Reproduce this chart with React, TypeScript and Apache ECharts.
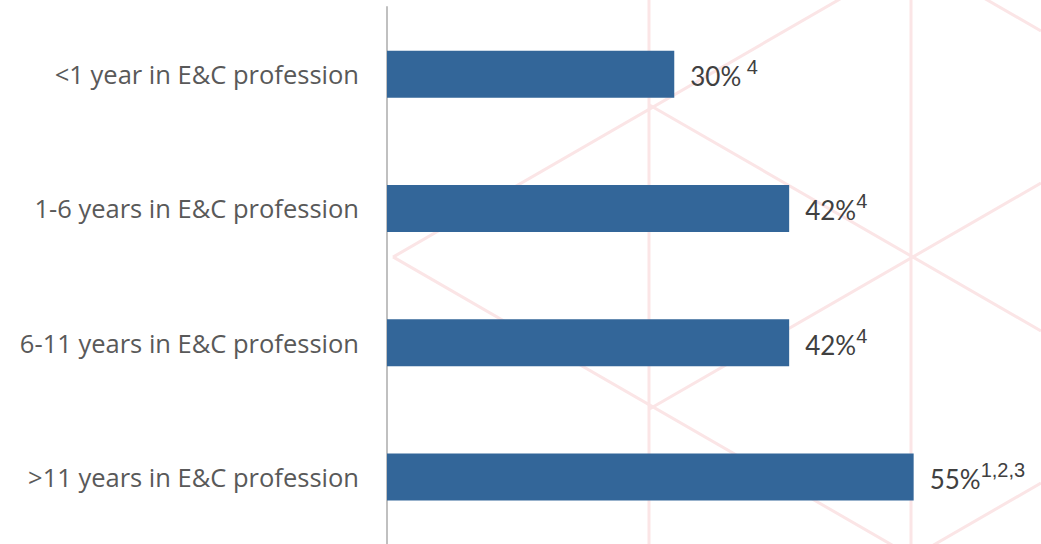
import React, { useEffect, useRef } from "react";
import * as echarts from "echarts";

const categories = [
  "<1 year in E&C profession",
  "1-6 years in E&C profession",
  "6-11 years in E&C profession",
  ">11 years in E&C profession",
];
const values = [30, 42, 42, 55];
const footnotes = [" 4", "4", "4", "1,2,3"];

// faint decorative background pattern (isometric lines)
const TAN30 = Math.tan(Math.PI / 6);
const patternVerticals = [649, 911];
const patternUp = [
  { c: 484, x0: 393 },
  { c: 784, x0: 649 },
  { c: 1084, x0: 911 },
];
const patternDown = [
  { c: -570, x0: 911 },
  { c: -270, x0: 649 },
  { c: 30, x0: 393 },
];
const PATTERN_RIGHT = 1041;
const PATTERN_COLOR = "#fbe5e6";

export default function App() {
  const ref = useRef<HTMLDivElement>(null);

  useEffect(() => {
    if (!ref.current) return;
    const chart = echarts.init(ref.current, undefined, { renderer: "svg" });

    const graphics: any[] = [];
    patternVerticals.forEach((x) =>
      graphics.push({
        type: "line",
        silent: true,
        z: -10,
        shape: { x1: x, y1: 0, x2: x, y2: 544 },
        style: { stroke: PATTERN_COLOR, lineWidth: 3 },
      })
    );
    patternUp.forEach(({ c, x0 }) =>
      graphics.push({
        type: "line",
        silent: true,
        z: -10,
        shape: { x1: x0, y1: c - TAN30 * x0, x2: PATTERN_RIGHT, y2: c - TAN30 * PATTERN_RIGHT },
        style: { stroke: PATTERN_COLOR, lineWidth: 3 },
      })
    );
    patternDown.forEach(({ c, x0 }) =>
      graphics.push({
        type: "line",
        silent: true,
        z: -10,
        shape: { x1: x0, y1: c + TAN30 * x0, x2: PATTERN_RIGHT, y2: c + TAN30 * PATTERN_RIGHT },
        style: { stroke: PATTERN_COLOR, lineWidth: 3 },
      })
    );

    chart.setOption({
      animation: false,
      backgroundColor: "#ffffff",
      graphic: graphics,
      grid: { left: 387, width: 654, top: 7, height: 542, containLabel: false },
      xAxis: {
        type: "value",
        min: 0,
        max: 68.3,
        show: false,
      },
      yAxis: {
        type: "category",
        data: categories,
        inverse: true,
        axisLine: { show: true, lineStyle: { color: "#c0c0c0", width: 2 } },
        axisTick: { show: false },
        splitLine: { show: false },
        axisLabel: {
          margin: 28,
          color: "#595959",
          fontFamily: "Open Sans",
          fontSize: 25.5,
        },
      },
      series: [
        {
          type: "bar",
          barWidth: 47,
          z: 2,
          data: values.map((v, i) => ({
            value: v,
            label: {
              formatter: `{v|${v}%}{s|${footnotes[i]}}`,
            },
          })),
          itemStyle: { color: "#336699" },
          label: {
            show: true,
            position: "right",
            distance: 16,
            offset: [0, 2],
            rich: {
              v: { fontFamily: "Lato", fontSize: 26, color: "#404040" },
              s: {
                fontFamily: "Liberation Sans",
                fontSize: 20,
                color: "#404040",
                padding: [0, 0, 18, 0],
              },
            },
          },
        },
      ],
    });
    return () => chart.dispose();
  }, []);

  return (
    <div
      ref={ref}
      style={{ position: "fixed", left: 0, top: 0, width: 1041, height: 544 }}
    />
  );
}
